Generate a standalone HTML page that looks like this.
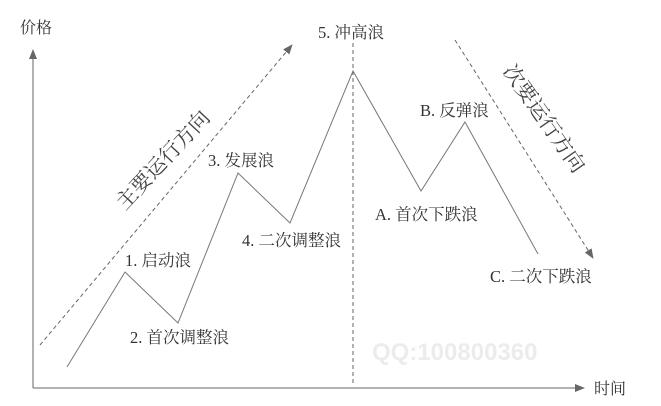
<!DOCTYPE html>
<html><head><meta charset="utf-8"><style>
html,body{margin:0;padding:0;background:#fff;}
svg{display:block}
text{font-family:"Liberation Serif","Noto Serif CJK SC",serif;fill:#333;font-size:16.5px;}
</style></head><body>
<svg width="661" height="406" viewBox="0 0 661 406">
<defs>
<marker id="a" markerWidth="10" markerHeight="10" refX="9" refY="5" orient="auto" markerUnits="userSpaceOnUse"><path d="M0,1 L10,5 L0,9 Z" fill="#666"/></marker>
</defs>
<text x="372" y="360" style="font-size:24px;font-weight:bold;font-family:'Liberation Sans',sans-serif;fill:#ececec">QQ:100800360</text>
<g stroke="#666" stroke-width="1" fill="none">
<line x1="33" y1="388" x2="33" y2="50" marker-end="url(#a)"/>
<line x1="33" y1="388" x2="584" y2="388" marker-end="url(#a)"/>
<line x1="353" y1="43" x2="353" y2="385" stroke-dasharray="4,3"/>
<line x1="40" y1="345" x2="292" y2="45" stroke-dasharray="4,3" marker-end="url(#a)"/>
<line x1="455" y1="40" x2="593" y2="258" stroke-dasharray="4,3" marker-end="url(#a)"/>
<polyline points="67,367 125,272 178,323 238,173 290,223 353,71 421,191 465,122 538,254" stroke="#777"/>
</g>
<text x="20" y="33" style="font-size:16px">价格</text>
<text x="594" y="394" style="font-size:16px">时间</text>
<text x="125" y="266">1. 启动浪</text>
<text x="130" y="343">2. 首次调整浪</text>
<text x="208" y="166">3. 发展浪</text>
<text x="242" y="246">4. 二次调整浪</text>
<text x="318" y="38">5. 冲高浪</text>
<text x="420" y="116">B. 反弹浪</text>
<text x="375" y="220">A. 首次下跌浪</text>
<text x="490" y="282">C. 二次下跌浪</text>
<text x="163" y="167" text-anchor="middle" style="font-size:21px;fill:#444" transform="rotate(-47 163 160)">主要运行方向</text>
<text x="545" y="126" text-anchor="middle" style="font-size:21px;fill:#444" transform="rotate(55 545 118)">次要运行方向</text>
</svg>
</body></html>
